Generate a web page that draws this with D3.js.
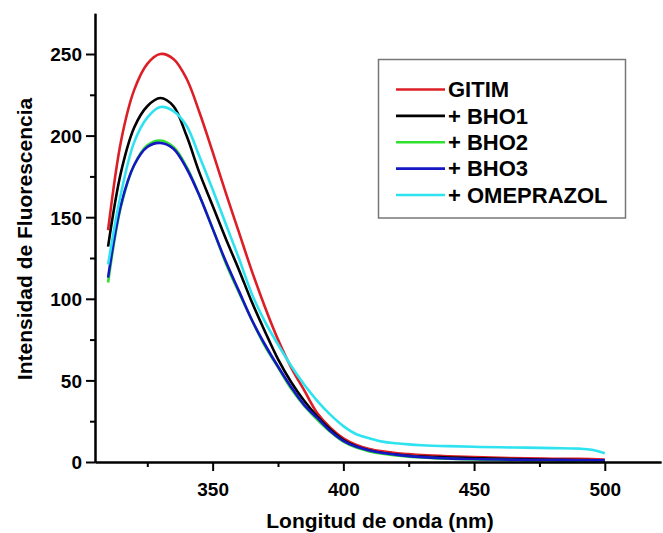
<!DOCTYPE html>
<html>
<head>
<meta charset="utf-8">
<script src="https://cdn.jsdelivr.net/npm/d3@7"></script>
<style>
  html, body { margin: 0; padding: 0; background: #fff; }
  svg { display: block; }
  text { font-family: "Liberation Sans", Arial, sans-serif; font-weight: bold; fill: #000; }
</style>
</head>
<body>
<svg id="chart" width="663" height="533"></svg>
<script>
// Emission wavelengths (nm) shared by every spectrum
const wavelengths = [310,315,320,325,330,335,340,345,350,355,360,365,370,375,380,385,390,395,400,
                     405,410,415,420,425,430,440,450,460,470,480,490,495,500];

// Fluorescence intensity for each sample
const gitim     = [142,197,228,244,250,247,235,214,190,165,141,117,95,75,58,44,30,21,14.5,
                   10.5,8,6.5,5.5,4.8,4.2,3.5,3,2.5,2.2,2,2,1.8,1.5];
const bho1      = [132,178,205,218,223,218,200,177,157,137,118,98,80,63,49,37.5,28,20,13.5,
                   9.5,7,5.5,4.5,3.8,3.3,2.8,2.3,1.9,1.6,1.4,1.2,1.1,1.0];
const bho2      = [110,157,182,194,197,193,181,163,143,122,104,87,71,58,45,34.5,26,18.5,12.5,
                   8.8,6.5,5,4,3.3,2.8,2,1.5,1.2,1,0.9,0.8,0.8,0.7];
const bho3      = [113,158,182,193,195.5,192,180,163,143,123,105,87,72,58.5,46,35,27,19,13,
                   9.3,7,5.5,4.5,3.6,3,2.2,1.8,1.5,1.3,1.2,1.1,1,1];
const omeprazol = [121,165,196,211,217.5,215,206,187,167,146,125,103,86,72,59,47.5,37.5,29,22,
                   17,14.5,12.5,11.5,10.8,10.3,9.7,9.3,9,8.8,8.5,8.2,7.5,5.3];

const seriesNames  = ["GITIM", "+ BHO1", "+ BHO2", "+ BHO3", "+ OMEPRAZOL"];
const seriesValues = [gitim, bho1, bho2, bho3, omeprazol];
const seriesColors = ["#dc1f26", "#000000", "#2fe02f", "#1616c4", "#2ee3ef"];

const xMajorTicks = [350, 400, 450, 500];
const xMinorTicks = [325, 375, 425, 475];
const yMajorTicks = [0, 50, 100, 150, 200, 250];
const yMinorTicks = [25, 75, 125, 175, 225];

const xTitle = "Longitud de onda (nm)";
const yTitle = "Intensidad de Fluorescencia";

const svg = d3.select("#chart");

const x = d3.scaleLinear().domain([305, 521.5]).range([95, 661]);
const y = d3.scaleLinear().domain([0, 275]).range([462, 13.2]);

// Curves
const line = d3.line()
  .x(d => x(d[0]))
  .y(d => y(d[1]))
  .curve(d3.curveCatmullRom.alpha(0.5));

seriesValues.forEach((vals, i) => {
  svg.append("path")
    .datum(wavelengths.map((w, j) => [w, vals[j]]))
    .attr("fill", "none")
    .attr("stroke", seriesColors[i])
    .attr("stroke-width", 2.6)
    .attr("stroke-linejoin", "round")
    .attr("d", line);
});

// Axes
function styleAxis(g) {
  g.select(".domain").attr("stroke", "#000").attr("stroke-width", 2);
  g.selectAll(".tick line").attr("stroke", "#000").attr("stroke-width", 2);
  g.selectAll(".tick text").attr("font-size", 19).attr("font-family", "Liberation Sans, Arial, sans-serif").attr("font-weight", "bold");
}

const xAxisG = svg.append("g").attr("transform", `translate(0,${y(0)})`)
  .call(d3.axisBottom(x).tickValues(xMajorTicks).tickSize(9).tickPadding(12).tickSizeOuter(0).tickFormat(d3.format("d")));
styleAxis(xAxisG);
const xMinorG = svg.append("g").attr("transform", `translate(0,${y(0)})`)
  .call(d3.axisBottom(x).tickValues(xMinorTicks).tickSize(5).tickSizeOuter(0).tickFormat(""));
styleAxis(xMinorG);

const yAxisG = svg.append("g").attr("transform", `translate(${x(305)},0)`)
  .call(d3.axisLeft(y).tickValues(yMajorTicks).tickSize(9).tickPadding(4).tickSizeOuter(0).tickFormat(d3.format("d")));
styleAxis(yAxisG);
yAxisG.selectAll(".tick text").attr("dy", "0.36em");
const yMinorG = svg.append("g").attr("transform", `translate(${x(305)},0)`)
  .call(d3.axisLeft(y).tickValues(yMinorTicks).tickSize(5).tickSizeOuter(0).tickFormat(""));
styleAxis(yMinorG);

// Right frame with short ticks
const yRightG = svg.append("g").attr("transform", `translate(${x(521.5) + 3},0)`)
  .call(d3.axisLeft(y).tickValues(yMajorTicks).tickSize(-4).tickSizeOuter(0).tickFormat(""));
styleAxis(yRightG);

// Axis titles
svg.append("text")
  .attr("x", 380).attr("y", 528)
  .attr("text-anchor", "middle")
  .attr("font-size", 21)
  .text(xTitle);

svg.append("text")
  .attr("transform", `translate(32,${239}) rotate(-90)`)
  .attr("text-anchor", "middle")
  .attr("font-size", 21)
  .text(yTitle);

// Legend
const legend = svg.append("g");
legend.append("rect")
  .attr("x", 378.5).attr("y", 59.5)
  .attr("width", 247).attr("height", 158.5)
  .attr("fill", "#fff")
  .attr("stroke", "#777")
  .attr("stroke-width", 1.5);

const legendRow = d3.scaleLinear().domain([0, 4]).range([89.5, 195]);
seriesNames.forEach((name, i) => {
  const cy = legendRow(i);
  legend.append("line")
    .attr("x1", 396).attr("x2", 445)
    .attr("y1", cy).attr("y2", cy)
    .attr("stroke", seriesColors[i])
    .attr("stroke-width", 2.6);
  legend.append("text")
    .attr("x", 448).attr("y", cy)
    .attr("dy", "0.35em")
    .attr("font-size", 22)
    .text(name);
});
</script>
</body>
</html>
